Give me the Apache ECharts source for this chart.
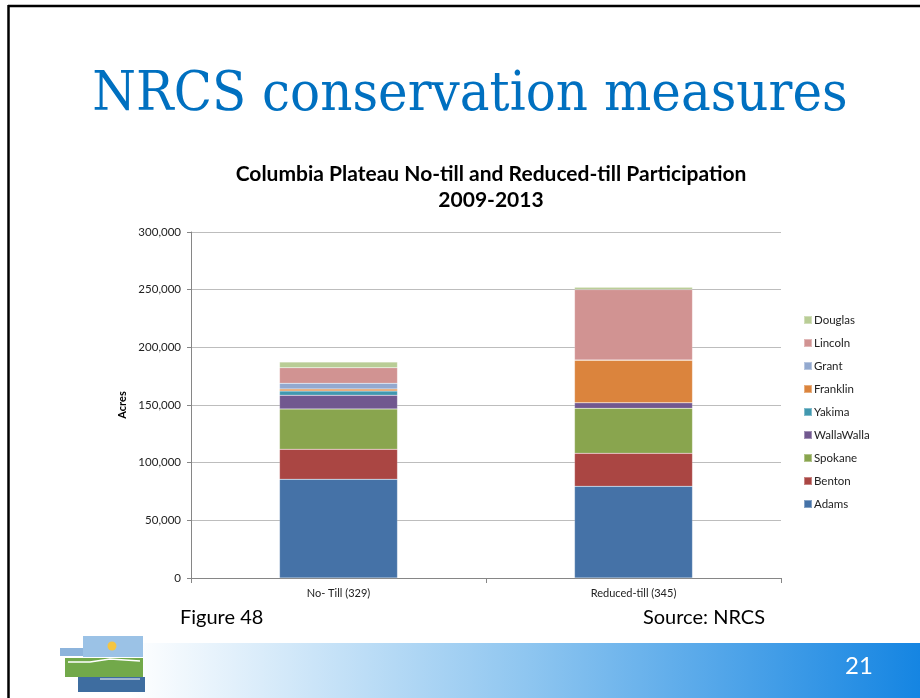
<!DOCTYPE html>
<html>
<head>
<meta charset="utf-8">
<script src="https://cdn.jsdelivr.net/npm/echarts@6/dist/echarts.min.js"></script>
<style>
html,body{margin:0;padding:0;background:#fff;}
#chart{width:920px;height:698px;}
</style>
</head>
<body>
<div id="chart"></div>
<script>
var categories = ['No- Till (329)', 'Reduced-till (345)'];
var seriesNames = ['Adams', 'Benton', 'Spokane', 'WallaWalla', 'Yakima', 'Franklin', 'Grant', 'Lincoln', 'Douglas'];
var adams = [85600, 79500];
var benton = [26000, 28600];
var spokane = [35000, 39000];
var wallaWalla = [11900, 4900];
var yakima = [3700, 0];
var franklin = [1700, 36800];
var grant = [4900, 300];
var lincoln = [13500, 61000];
var douglas = [4900, 2000];
var yTicks = [0, 50000, 100000, 150000, 200000, 250000, 300000];
var colors = ['#4572A7', '#AA4643', '#89A54E', '#71588F', '#4198AF', '#DB843D', '#93A9CF', '#D19392', '#B9CD96'];

var values = [adams, benton, spokane, wallaWalla, yakima, franklin, grant, lincoln, douglas];
var chart = echarts.init(document.getElementById('chart'));
var font = 'Lato, "Open Sans", sans-serif';

var series = seriesNames.map(function (n, i) {
  return {
    name: n, type: 'bar', stack: 'total', barWidth: 118,
    itemStyle: { color: colors[i], borderColor: 'rgba(255,255,255,0.35)', borderWidth: 0.5 },
    data: values[i]
  };
});

chart.setOption({
  animation: false,
  color: colors,
  title: {
    text: 'Columbia Plateau No-till and Reduced-till Participation\n2009-2013',
    left: 486, top: 156, textAlign: 'center',
    textStyle: { fontFamily: font, fontSize: 21, fontWeight: 'bold', color: '#000', lineHeight: 26 }
  },
  legend: {
    orient: 'vertical', left: 798, top: 309,
    data: seriesNames.slice().reverse(),
    itemWidth: 8, itemHeight: 8, itemGap: 11, icon: 'rect',
    textStyle: { fontFamily: font, fontSize: 11.5, color: '#222', padding: [0,0,0,-3] }
  },
  grid: { left: 191, right: 139, top: 232, bottom: 120 },
  xAxis: {
    type: 'category', data: categories,
    axisLine: { lineStyle: { color: '#868686' } },
    axisTick: { show: true, inside: false, length: 5, lineStyle: { color: '#868686' } },
    axisLabel: { fontFamily: font, fontSize: 11, color: '#222', margin: 10 }
  },
  yAxis: {
    type: 'value', min: 0, max: 300000, interval: 50000,
    name: 'Acres', nameLocation: 'middle', nameGap: 62, nameRotate: 90,
    nameTextStyle: { fontFamily: font, fontSize: 11, fontWeight: 'bold', color: '#000' },
    axisLine: { show: true, lineStyle: { color: '#868686' } },
    axisTick: { show: true, length: 4, lineStyle: { color: '#868686' } },
    splitLine: { lineStyle: { color: '#bdbdbd', width: 1.2 } },
    axisLabel: {
      fontFamily: font, fontSize: 11.5, color: '#222', margin: 10,
      formatter: function (v) { return yTicks.indexOf(v) >= 0 ? v.toLocaleString('en-US') : ''; }
    }
  },
  series: series,
  graphic: [
    { type: 'line', shape: { x1: 8, y1: 6, x2: 920, y2: 6 }, style: { stroke: '#000', lineWidth: 2.5 } },
    { type: 'line', shape: { x1: 8.5, y1: 5, x2: 8.5, y2: 698 }, style: { stroke: '#000', lineWidth: 2.5 } },
    { type: 'text', x: 470, y: 104, scaleY: 1.08, originX: 470, originY: 104,
      style: { text: 'NRCS conservation measures', fontFamily: '"DejaVu Serif", serif', fontSize: 50, fill: '#0070C0',
        align: 'center', verticalAlign: 'middle' } },
    { type: 'rect', shape: { x: 130, y: 643, width: 790, height: 55 },
      style: { fill: new echarts.graphic.LinearGradient(0, 0, 1, 0, [
        { offset: 0, color: '#ffffff' }, { offset: 0.5, color: '#8fc6f0' }, { offset: 1, color: '#1585e2' }]) } },
    { type: 'text', x: 845, y: 654, style: { text: '21', fontFamily: font, fontSize: 24, fill: '#fff' } },
    { type: 'text', x: 180, y: 608, style: { text: 'Figure 48', fontFamily: font, fontSize: 20, fill: '#000' } },
    { type: 'text', x: 765, y: 608, style: { text: 'Source: NRCS', fontFamily: font, fontSize: 20, fill: '#000', align: 'right' } },
    { type: 'rect', shape: { x: 60, y: 648, width: 25, height: 8 }, style: { fill: '#8db4dc' } },
    { type: 'rect', shape: { x: 83, y: 636, width: 60, height: 21 }, style: { fill: '#9bc2e6' } },
    { type: 'circle', shape: { cx: 112, cy: 646, r: 4.5 }, style: { fill: '#f5c542' } },
    { type: 'rect', shape: { x: 65, y: 658, width: 78, height: 19 }, style: { fill: '#72a94a' } },
    { type: 'polyline', shape: { points: [[68,662],[90,662],[110,659],[140,661]] }, style: { stroke: '#fff', lineWidth: 1.5, fill: null } },
    { type: 'rect', shape: { x: 78, y: 677, width: 67, height: 15 }, style: { fill: '#3e6da0' } },
    { type: 'line', shape: { x1: 100, y1: 679, x2: 140, y2: 679 }, style: { stroke: '#fff', lineWidth: 1 } }
  ]
});
</script>
</body>
</html>
